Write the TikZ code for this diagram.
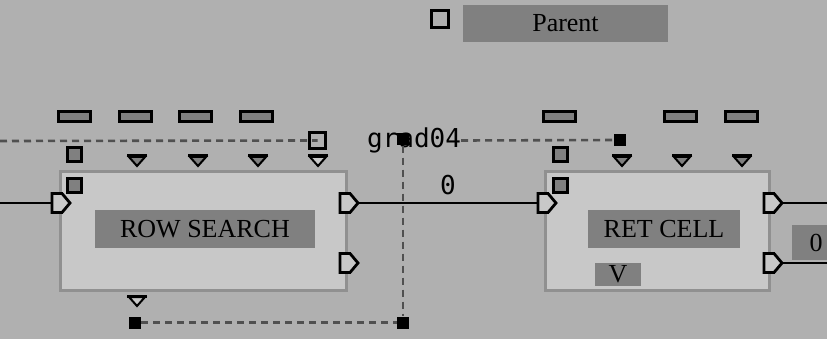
\documentclass[tikz,border=0pt]{standalone}
\usepackage{fontspec}
\setmainfont{Liberation Serif}
\newfontfamily\pixmono{DejaVu Sans Mono}
\definecolor{bg}{HTML}{B0B0B0}
\definecolor{blockfill}{HTML}{C8C8C8}
\definecolor{blockedge}{HTML}{909090}
\definecolor{labgray}{HTML}{808080}
\definecolor{dashc}{HTML}{505050}
\begin{document}
\begin{tikzpicture}[x=1pt,y=-1pt,
  block/.style={draw=blockedge, line width=3pt, fill=blockfill, inner sep=0pt},
  lbl/.style={fill=labgray, inner sep=0pt, font=\fontsize{26}{26}\selectfont},
  gsq/.style={draw=black, line width=3pt, fill=labgray, inner sep=0pt, minimum size=14pt},
  hsq/.style={draw=black, line width=2.6pt, inner sep=0pt, minimum size=16.5pt},
  bsq/.style={fill=black, inner sep=0pt, minimum size=12pt},
  bar/.style={draw=black, line width=3pt, fill=labgray, inner sep=0pt, minimum width=32pt, minimum height=10.5pt},
  dline/.style={draw=dashc, line width=2.6pt, dash pattern=on 7pt off 5pt},
  wire/.style={draw=black, line width=2.6pt},
  mono/.style={font=\pixmono\fontsize{26}{26}\selectfont, inner sep=0pt},
  pics/tri/.style={code={
    \filldraw[line width=2pt, fill=#1] (-8,-4) -- (8,-4) -- (0,5) -- cycle;
    \draw[line width=3pt] (-10,-5) -- (10,-5);}},
  pics/port/.style={code={
    \filldraw[line width=2.8pt, fill=blockfill] (0,-9.5) -- (10,-9.5) -- (18,0) -- (10,9.5) -- (0,9.5) -- cycle;
    \coordinate (-in) at (0,0);
    \coordinate (-out) at (18,0);}}
]
\useasboundingbox (0,0) rectangle (827,339);
\clip (0,0) rectangle (827,339);
\fill[bg] (0,0) rectangle (827,339);

% Parent
\node[hsq, fill=bg] (psq) at (440,19) {};
\node[lbl, minimum width=205pt, minimum height=37pt] (parent) at (565.5,23.5) {Parent};

% top bars
\node[bar] (b1) at (74.5,116.5) {};
\node[bar] (b2) at (135,116.5) {};
\node[bar] (b3) at (195.5,116.5) {};
\node[bar] (b4) at (256,116.5) {};
\node[bar] (b5) at (559.5,116.5) {};
\node[bar] (b6) at (680.5,116.5) {};
\node[bar] (b7) at (741,116.5) {};

% blocks
\node[block, minimum width=286pt, minimum height=119pt] (rs) at (203.5,231) {};
\node[block, minimum width=224pt, minimum height=119pt] (rc) at (657.5,231) {};
\node[lbl, minimum width=220pt, minimum height=38pt] (rsl) at (205,229) {ROW SEARCH};
\node[lbl, minimum width=152pt, minimum height=38pt] (rcl) at (664,229) {RET CELL};
\node[lbl, minimum width=46pt, minimum height=23pt] (vl) at (618,274.5) {V};
\node[lbl, minimum width=48pt, minimum height=35pt] (zl) at (816,242.5) {0};

% dashed connections
\coordinate (lfree) at (0,141);
\node[hsq] (hs) at (317.5,140.5) {};
\draw[dline] (lfree) -- (hs.center);
\node[mono] (grad) at (414,140.5) {grad04};
\node[bsq] (ktop) at (403,139.5) {};
\node[bsq] (kright) at (620,140) {};
\node[bsq] (kbl) at (135,322.5) {};
\node[bsq] (kbr) at (403,322.5) {};
\draw[dline] (grad.east) -- (kright);
\draw[dline] (kbl) -- (kbr);

% small squares
\node[gsq] (s1) at (74.5,154.5) {};
\node[gsq] (s2) at (74.5,185.5) {};
\node[gsq] (s3) at (560,154.5) {};
\node[gsq] (s4) at (560,185.5) {};

% triangles
\pic at (137,161) {tri=labgray};
\pic at (198,161) {tri=labgray};
\pic at (258,161) {tri=labgray};
\pic at (318,161) {tri=blockfill};
\pic at (622,161) {tri=labgray};
\pic at (682,161) {tri=labgray};
\pic at (742,161) {tri=labgray};
\pic at (137,301) {tri=blockfill};

% ports
\pic (pa) at (52,203) {port};
\pic (pb) at (340,203) {port};
\pic (pc) at (340,263) {port};
\pic (pd) at (538,203) {port};
\pic (pe) at (764,203) {port};
\pic (pf) at (764,263) {port};

% wires
\coordinate (win) at (0,203);
\coordinate (wo1) at (827,203);
\coordinate (wo2) at (827,263);
\draw[wire] (win) -- (pa-in);
\draw[wire] (pb-out) -- node[mono, above=7pt] (zero) {0} (pd-in);
\draw[wire] (pe-out) -- (wo1);
\draw[wire] (pf-out) -- (wo2);
\draw[dline] (ktop) -- (kbr);
\end{tikzpicture}
\end{document}
